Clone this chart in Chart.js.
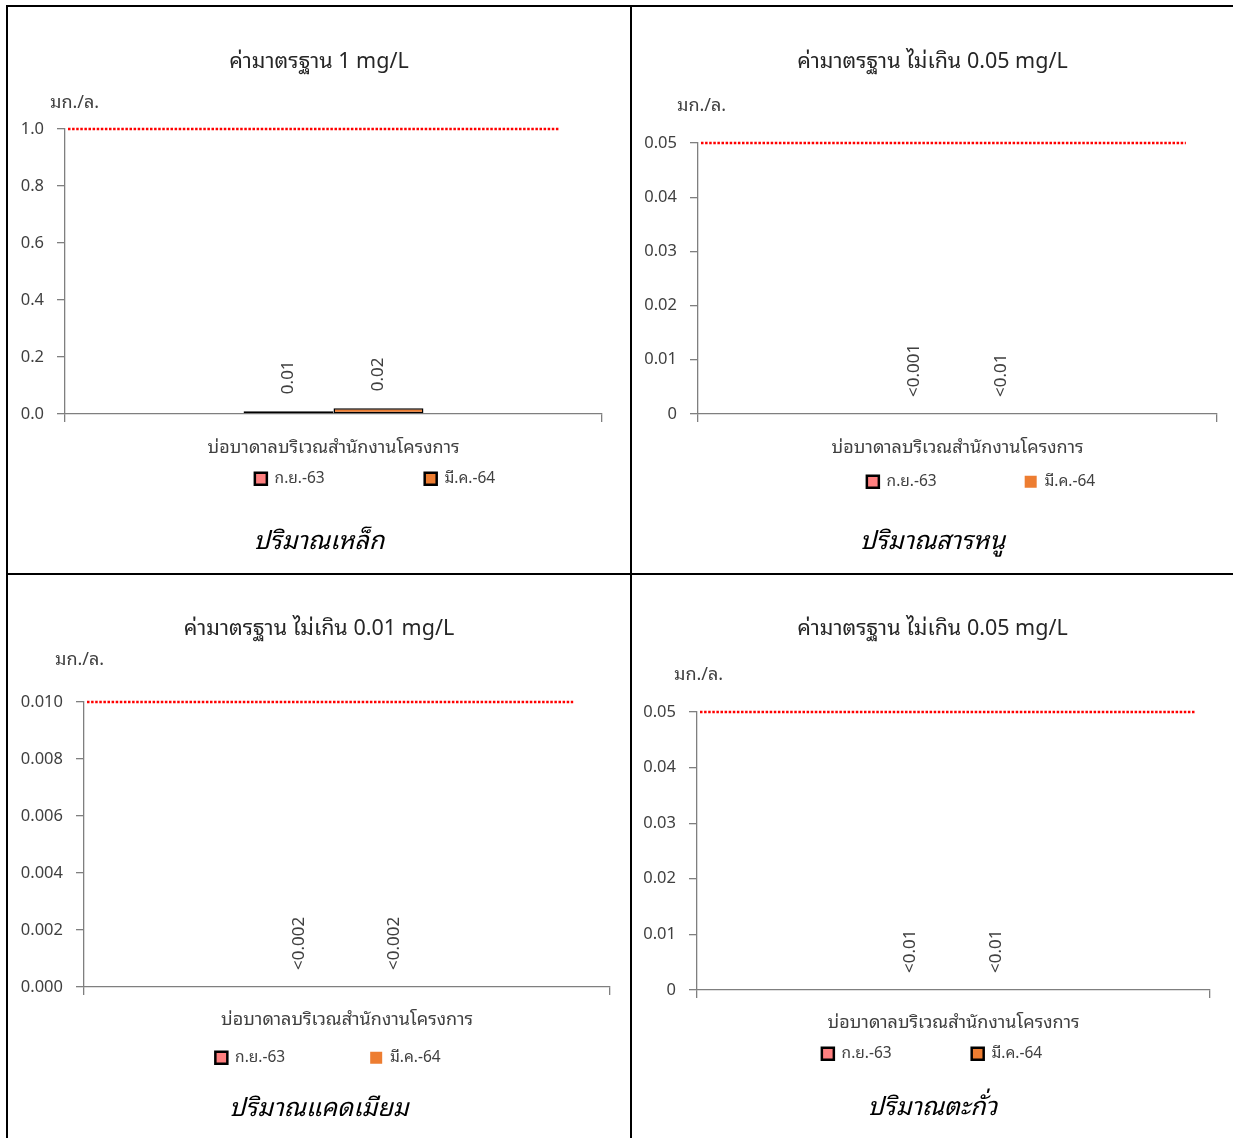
<!DOCTYPE html>
<html>
<head>
<meta charset="utf-8">
<title>ผลตรวจคุณภาพน้ำบ่อบาดาล</title>
<script src="https://cdn.jsdelivr.net/npm/chart.js@4.4.1/dist/chart.umd.min.js"></script>
<style>
    body { margin: 0; background: #fff; }
    #sheet { position: relative; width: 1233px; height: 1138px; overflow: hidden; background: #fff; }
    #sheet canvas { position: absolute; }
    .rule { position: absolute; background: #000; }
</style>
</head>
<body>
<div id="sheet">
    <canvas id="cIron" width="622" height="566" style="left:8px;top:7px"></canvas>
    <canvas id="cArsenic" width="601" height="566" style="left:632px;top:7px"></canvas>
    <canvas id="cCadmium" width="622" height="563" style="left:8px;top:575px"></canvas>
    <canvas id="cLead" width="601" height="563" style="left:632px;top:575px"></canvas>

    <div class="rule" style="left:6px;top:5px;width:1227px;height:2px"></div>
    <div class="rule" style="left:6px;top:5px;width:2px;height:1133px"></div>
    <div class="rule" style="left:630px;top:5px;width:2px;height:1133px"></div>
    <div class="rule" style="left:6px;top:573px;width:1227px;height:2px"></div>
</div>

<script>
// data
var category = ['บ่อบาดาลบริเวณสำนักงานโครงการ'];
var seriesNames = ['ก.ย.-63', 'มี.ค.-64'];
var unitText = 'มก./ล.';

var ironSep = [0.01];
var ironMar = [0.02];
var ironLabels = [['0.01'], ['0.02']];
var ironTicks = ['0.0', '0.2', '0.4', '0.6', '0.8', '1.0'];

var arsenicSep = [0];
var arsenicMar = [0];
var arsenicLabels = [['<0.001'], ['<0.01']];
var arsenicTicks = ['0', '0.01', '0.02', '0.03', '0.04', '0.05'];

var cadmiumSep = [0];
var cadmiumMar = [0];
var cadmiumLabels = [['<0.002'], ['<0.002']];
var cadmiumTicks = ['0.000', '0.002', '0.004', '0.006', '0.008', '0.010'];

var leadSep = [0];
var leadMar = [0];
var leadLabels = [['<0.01'], ['<0.01']];
var leadTicks = ['0', '0.01', '0.02', '0.03', '0.04', '0.05'];

var standards = [1, 0.05, 0.01, 0.05];
var titles = ['ค่ามาตรฐาน 1 mg/L', 'ค่ามาตรฐาน ไม่เกิน 0.05 mg/L', 'ค่ามาตรฐาน ไม่เกิน 0.01 mg/L', 'ค่ามาตรฐาน ไม่เกิน 0.05 mg/L'];
var names = ['ปริมาณเหล็ก', 'ปริมาณสารหนู', 'ปริมาณแคดเมียม', 'ปริมาณตะกั่ว'];

var app = {
    thai : "'Noto Sans Thai Looped', Loma, Waree, Garuda, 'Noto Sans Thai', 'Noto Sans', sans-serif",
    axisColor : '#7f7f7f',
    tickSize : 16.5,
    xSize : 18,
    titleSize : 21.5,
    subSize : 25,

    // extra drawing: unit text, standard line, rotated value labels, legend spot
    extras : {
        id: 'extras',
        afterLayout: function (chart, args, o) {
            var lg = chart.legend;
            var pad = chart.options.plugins.legend.labels.padding;
            var w = lg.right - lg.left;
            lg.left = o.legendX - w / 2;
            lg.right = o.legendX + w / 2;
            lg.top = o.legendY - 8 - pad;
            lg.bottom = o.legendY + 14;
        },
        afterDatasetsDraw: function (chart, args, o) {
            var ctx = chart.ctx;
            var area = chart.chartArea;
            var y = chart.scales.y.getPixelForValue(o.standard);

            ctx.save();
            ctx.strokeStyle = '#ff0000';
            ctx.lineWidth = 2.5;
            ctx.setLineDash([2.5, 1.6]);
            ctx.beginPath();
            ctx.moveTo(area.left + 3, y);
            ctx.lineTo(area.left + (area.right - area.left) * o.lineEnd, y);
            ctx.stroke();
            ctx.restore();

            ctx.save();
            ctx.fillStyle = '#404040';
            ctx.font = '17px ' + app.thai;
            ctx.textAlign = 'left';
            ctx.textBaseline = 'middle';
            chart.data.datasets.forEach(function (ds, i) {
                chart.getDatasetMeta(i).data.forEach(function (bar, j) {
                    var top = Math.min(bar.y, bar.base);
                    ctx.save();
                    ctx.translate(bar.x, top - 17);
                    ctx.rotate(-Math.PI / 2);
                    ctx.fillText(o.labels[i][j], 0, 0);
                    ctx.restore();
                });
            });
            ctx.font = '18px ' + app.thai;
            ctx.fillText(unitText, o.unitX, o.unitY);
            ctx.restore();
        }
    },

    init : function () {
        Chart.defaults.font.family = app.thai;
        Chart.defaults.color = '#404040';
        Chart.register(app.extras);

        app.draw('cIron', {
            sep: ironSep, mar: ironMar, labels: ironLabels, ticks: ironTicks,
            standard: standards[0], title: titles[0], name: names[0],
            area: [57, 122, 594, 407], titleY: 55, unitX: 42, unitY: 96,
            xLabelY: 441, legendX: 367, legendY: 472, gap: 100, subY: 535,
            bar: 0.335, border: [1.5, 1.5], lineEnd: 0.92
        });
        app.draw('cArsenic', {
            sep: arsenicSep, mar: arsenicMar, labels: arsenicLabels, ticks: arsenicTicks,
            standard: standards[1], title: titles[1], name: names[1],
            area: [66, 136, 585, 407], titleY: 55, unitX: 45, unitY: 99,
            xLabelY: 441, legendX: 349, legendY: 475, gap: 88, subY: 535,
            bar: 0.335, border: [1.5, 0], lineEnd: 0.94
        });
        app.draw('cCadmium', {
            sep: cadmiumSep, mar: cadmiumMar, labels: cadmiumLabels, ticks: cadmiumTicks,
            standard: standards[2], title: titles[2], name: names[2],
            area: [76, 127, 602, 412], titleY: 54, unitX: 47, unitY: 85,
            xLabelY: 445, legendX: 320, legendY: 483, gap: 85, subY: 534,
            bar: 0.36, border: [1.5, 0], lineEnd: 0.93
        });
        app.draw('cLead', {
            sep: leadSep, mar: leadMar, labels: leadLabels, ticks: leadTicks,
            standard: standards[3], title: titles[3], name: names[3],
            area: [65, 137, 578, 415], titleY: 54, unitX: 42, unitY: 100,
            xLabelY: 448, legendX: 300, legendY: 479, gap: 80, subY: 533,
            bar: 0.335, border: [1.5, 1.5], lineEnd: 0.97
        });
    },

    legendItems : function (chart) {
        var items = Chart.defaults.plugins.legend.labels.generateLabels(chart);
        items.forEach(function (it) {
            if (it.lineWidth) { it.lineWidth = 2.5; }
        });
        return items;
    },

    draw : function (id, p) {
        var canvas = document.getElementById(id);
        var W = canvas.width;
        var H = canvas.height;
        var a = p.area;
        var subTop = a[3] + 50 + 1;
        var tl = app.titleSize * 1.2;
        var sl = app.subSize * 1.2;

        return new Chart(canvas, {
            type: 'bar',
            data: {
                labels: category,
                datasets: [{
                    label: seriesNames[0],
                    data: p.sep,
                    backgroundColor: '#ff8080',
                    borderColor: '#000',
                    borderWidth: p.border[0],
                    borderSkipped: false
                }, {
                    label: seriesNames[1],
                    data: p.mar,
                    backgroundColor: '#ed7d31',
                    borderColor: '#000',
                    borderWidth: p.border[1],
                    borderSkipped: false
                }]
            },
            options: {
                responsive: false,
                animation: false,
                events: [],
                categoryPercentage: p.bar,
                barPercentage: 1,
                layout: { padding: 0 },
                scales: {
                    x: {
                        border: { display: true, color: app.axisColor, width: 1.3 },
                        grid: { display: true, drawOnChartArea: false, drawTicks: true, tickLength: 8, color: app.axisColor, lineWidth: 1.3 },
                        ticks: { padding: p.xLabelY - a[3] - 8 - app.xSize * 0.6, maxRotation: 0, font: { size: app.xSize }, color: '#404040' },
                        afterFit: function (s) { s.height = 50; }
                    },
                    y: {
                        min: 0,
                        max: parseFloat(p.ticks[p.ticks.length - 1]),
                        border: { display: true, color: app.axisColor, width: 1.3 },
                        grid: { display: true, drawOnChartArea: false, drawTicks: true, tickLength: 8, color: app.axisColor, lineWidth: 1.3 },
                        ticks: {
                            padding: 13,
                            font: { size: app.tickSize },
                            color: '#404040',
                            callback: function (v, i) { return p.ticks[i]; }
                        },
                        afterBuildTicks: function (s) {
                            s.ticks = p.ticks.map(function (t) { return { value: parseFloat(t) }; });
                        },
                        afterFit: function (s) { s.width = a[0]; }
                    },
                    // empty right-hand strip so the plot ends where the sheet's does
                    side: {
                        position: 'right',
                        display: true,
                        border: { display: false },
                        grid: { display: false },
                        ticks: { display: false },
                        afterFit: function (s) { s.width = W - a[2]; }
                    }
                },
                plugins: {
                    title: {
                        display: true,
                        text: p.title,
                        color: '#262626',
                        font: { size: app.titleSize, weight: 'normal' },
                        padding: { top: p.titleY - tl / 2, bottom: a[1] - p.titleY - tl / 2 }
                    },
                    subtitle: {
                        display: true,
                        position: 'bottom',
                        text: p.name,
                        color: '#000',
                        font: { size: app.subSize, style: 'italic' },
                        padding: { top: p.subY - subTop - sl / 2, bottom: H - p.subY - sl / 2 }
                    },
                    legend: {
                        position: 'bottom',
                        maxHeight: 1,
                        labels: {
                            boxWidth: 12,
                            boxHeight: 12,
                            padding: p.gap,
                            color: '#404040',
                            font: { size: 15.5 },
                            generateLabels: app.legendItems
                        }
                    },
                    tooltip: { enabled: false },
                    extras: {
                        standard: p.standard,
                        lineEnd: p.lineEnd,
                        labels: p.labels,
                        unitX: p.unitX,
                        unitY: p.unitY,
                        legendX: p.legendX,
                        legendY: p.legendY
                    }
                }
            }
        });
    }
};

app.init();
</script>
</body>
</html>
